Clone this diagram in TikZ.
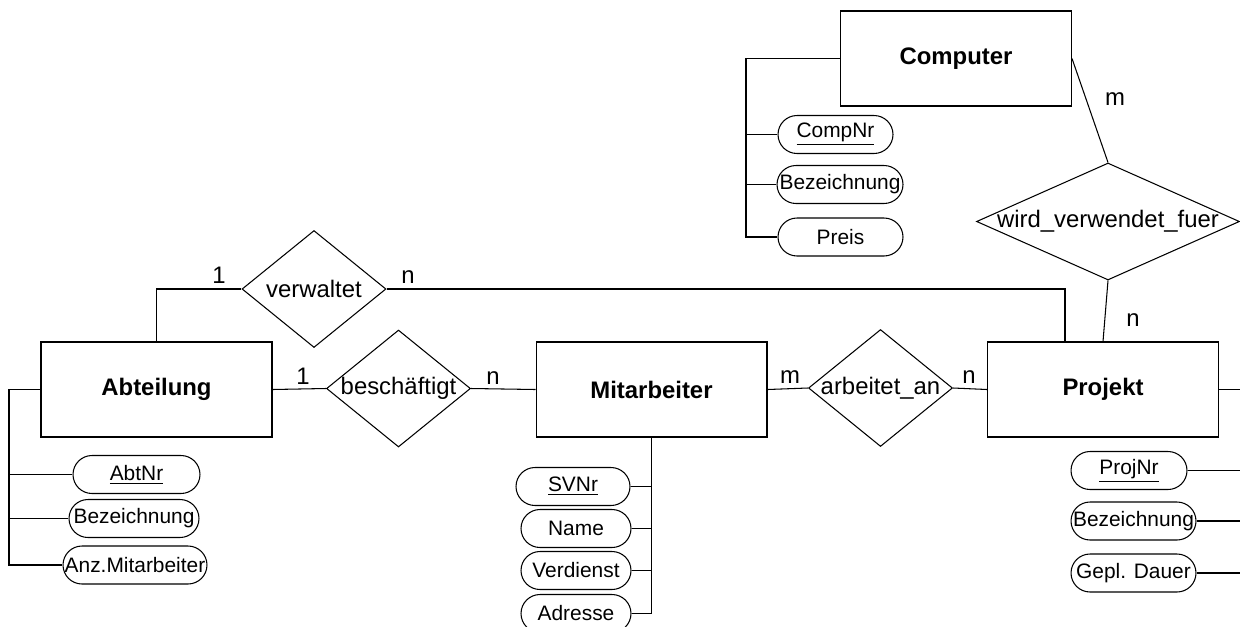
\documentclass[tikz,border=0pt]{standalone}
\usepackage{fontspec}
\setmainfont{Liberation Sans}
\usetikzlibrary{shapes.geometric}

\begin{document}
\begin{tikzpicture}[x=0.02cm, y=-0.02cm, line width=0.6pt,
    entity/.style={draw, rectangle, minimum width=4.62cm, minimum height=1.9cm, font=\fontsize{13.6}{16}\selectfont\bfseries},
    rel/.style={draw, diamond, inner sep=0pt, minimum width=2.88cm, minimum height=2.34cm, font=\fontsize{13.6}{16}\selectfont},
    attr/.style={draw, rectangle, rounded corners=0.38cm, inner sep=0pt, minimum height=0.76cm, font=\fontsize{11.9}{14}\selectfont},
    card/.style={anchor=base, inner sep=0pt, font=\fontsize{13.6}{16}\selectfont}]
    \useasboundingbox (0,0) rectangle (1240,626);

    % entities
    \node[entity] (abt) at (156.5,389.5) {Abteilung};
    \node[entity] (mit) at (651.5,389.5) {Mitarbeiter};
    \node[entity] (proj) at (1103,389.5) {Projekt};
    \node[entity] (comp) at (956,58.5) {Computer};

    % relationships
    \node[rel] (verw) at (314,289) {\makebox[0pt]{verwaltet}};
    \node[rel] (besch) at (398.5,388.5) {\makebox[0pt]{beschäftigt}};
    \node[rel] (arb) at (880.5,388) {\makebox[0pt]{arbeitet\_an}};
    \node[rel, minimum width=5.26cm] (wvf) at (1108,221.5) {\makebox[0pt]{wird\_verwendet\_fuer}};

    % attributes
    \node[attr, minimum width=2.54cm] (abtnr) at (136.5,474.5) {\makebox[0pt]{\underline{AbtNr}}};
    \node[attr, minimum width=2.6cm] (abtbez) at (134,518.5) {\makebox[0pt]{Bezeichnung}};
    \node[attr, minimum width=2.88cm] (abtanz) at (135,565) {\makebox[0pt]{Anz.Mitarbeiter}};

    \node[attr, minimum width=2.28cm] (svnr) at (573,486.5) {\makebox[0pt]{\underline{SVNr}}};
    \node[attr, minimum width=2.2cm] (name) at (576,528.5) {\makebox[0pt]{Name}};
    \node[attr, minimum width=2.2cm] (verd) at (576,570.5) {\makebox[0pt]{Verdienst}};
    \node[attr, minimum width=2.2cm] (adr) at (576,613.5) {\makebox[0pt]{Adresse}};

    \node[attr, minimum width=2.32cm] (projnr) at (1129,470.5) {\makebox[0pt]{\underline{ProjNr}}};
    \node[attr, minimum width=2.5cm] (projbez) at (1133.5,521) {\makebox[0pt]{Bezeichnung}};
    \node[attr, minimum width=2.5cm] (dauer) at (1133.5,573) {\makebox[0pt]{Gepl. Dauer}};

    \node[attr, minimum width=2.3cm] (compnr) at (835.5,134.5) {\makebox[0pt]{\underline{CompNr}}};
    \node[attr, minimum width=2.52cm] (compbez) at (840,184.5) {\makebox[0pt]{Bezeichnung}};
    \node[attr, minimum width=2.5cm] (preis) at (840.5,237) {\makebox[0pt]{Preis}};

    % attribute lines
    \draw (abt.west) -- ++(-31.5,0) coordinate (abtbus) |- (abtanz.west);
    \draw (abtbus |- abtnr.west) -- (abtnr.west);
    \draw (abtbus |- abtbez.west) -- (abtbez.west);

    \draw (mit.south) |- (adr.east);
    \draw (mit.south |- svnr.east) -- (svnr.east);
    \draw (mit.south |- name.east) -- (name.east);
    \draw (mit.south |- verd.east) -- (verd.east);

    \draw (proj.east) -- ++(30,0) coordinate (projbus) |- (dauer.east);
    \draw (projbus |- projnr.east) -- (projnr.east);
    \draw (projbus |- projbez.east) -- (projbez.east);

    \draw (comp.west) -- ++(-94,0) coordinate (compbus) |- (preis.west);
    \draw (compbus |- compnr.west) -- (compnr.west);
    \draw (compbus |- compbez.west) -- (compbez.west);

    % relationship lines
    \draw (abt.north) |- (verw.west);
    \draw (verw.east) -| ([xshift=-0.76cm]proj.north);
    \draw (abt.east) -- (besch.west);
    \draw (besch.east) -- (mit.west);
    \draw (mit.east) -- (arb.west);
    \draw (arb.east) -- (proj.west);
    \draw (comp.east) -- (wvf.north);
    \draw (wvf.south) -- (proj.north);

    % cardinalities
    \node[card] (c1) at (219,283) {1};
    \node[card] (c2) at (408,283) {n};
    \node[card] (c3) at (303,384) {1};
    \node[card] (c4) at (493,384) {n};
    \node[card] (c5) at (790,383) {m};
    \node[card] (c6) at (969,383) {n};
    \node[card] (c7) at (1115,105) {m};
    \node[card] (c8) at (1133,326) {n};
\end{tikzpicture}
\end{document}
